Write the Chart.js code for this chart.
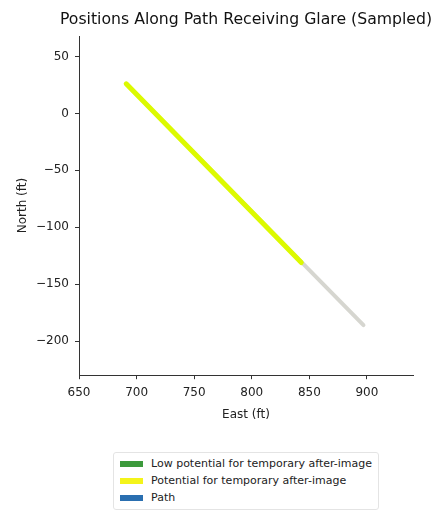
<!DOCTYPE html>
<html>
<head>
<meta charset="utf-8">
<script src="https://cdn.jsdelivr.net/npm/chart.js@4.4.1/dist/chart.umd.min.js"></script>
<style>
  body { margin: 0; background: #fff; }
  #wrap { position: relative; width: 433px; height: 512px; }
  #legend {
    position: absolute; left: 113px; top: 452px; width: 264px;
    border: 1px solid #e4e4e4; border-radius: 3px; padding: 2px 0 3px 0;
    font: 11px "DejaVu Sans", sans-serif; color: #222; background: #fff;
  }
  #legend div { height: 17px; line-height: 17px; white-space: nowrap; }
  #legend span.sw { display: inline-block; width: 23px; height: 6px; margin: 0 8px 1px 6px; vertical-align: middle; }
</style>
</head>
<body>
<div id="wrap">
  <canvas id="chart" width="433" height="512"></canvas>
  <div id="legend"></div>
</div>
<script>
// path sampled along the route (east ft, north ft)
const pathEast = [691, 897];
const pathNorth = [26, -186];

// stretch that gets "potential for temporary after-image"
const glareEast = [691, 843];
const glareNorth = [26, -131];

// low potential - none sampled
const lowEast = [];
const lowNorth = [];

const eastTicks = [650, 700, 750, 800, 850, 900];
const northTicks = [-200, -150, -100, -50, 0, 50];

const titleText = "Positions Along Path Receiving Glare (Sampled)";
const legendLabels = ["Low potential for temporary after-image", "Potential for temporary after-image", "Path"];
const legendColors = ["#3c9a3c", "#f4f41a", "#2a6fb0"];

function pts(xs, ys) {
    return xs.map((x, i) => ({ x: x, y: ys[i] }));
}

const minus = v => String(v).replace("-", "\u2212");

// title centred over the plot area, allowed to run past it (no squeezing)
const plotTitle = {
    id: "plotTitle",
    afterDraw(chart) {
        const c = chart.ctx;
        const a = chart.chartArea;
        c.save();
        c.font = "15.7px 'DejaVu Sans'";
        c.fillStyle = "#111";
        c.textAlign = "center";
        c.textBaseline = "middle";
        c.fillText(titleText, (a.left + a.right) / 2, 20);
        c.restore();
    }
};

const ctx = document.getElementById("chart").getContext("2d");

const chart = new Chart(ctx, {
    type: "scatter",
    data: {
        datasets: [
            {
                label: legendLabels[0],
                data: pts(lowEast, lowNorth),
                borderColor: legendColors[0],
                showLine: true,
                borderWidth: 5,
                pointRadius: 0
            },
            {
                label: legendLabels[1],
                data: pts(glareEast, glareNorth),
                borderColor: "#dcfa00",
                showLine: true,
                borderWidth: 5,
                borderCapStyle: "round",
                pointRadius: 0
            },
            {
                label: legendLabels[2],
                data: pts(pathEast, pathNorth),
                borderColor: "rgba(180, 180, 170, 0.55)",
                showLine: true,
                borderWidth: 4,
                borderCapStyle: "round",
                pointRadius: 0
            }
        ]
    },
    options: {
        responsive: false,
        animation: false,
        layout: { padding: { left: 0, right: 20, top: 36, bottom: 86 } },
        plugins: {
            legend: { display: false },
            tooltip: { enabled: false },
            title: { display: false }
        },
        scales: {
            x: {
                type: "linear",
                min: 650,
                max: 940,
                afterBuildTicks: s => { s.ticks = eastTicks.map(v => ({ value: v })); },
                ticks: { color: "#222", padding: 6, maxRotation: 0,
                    font: { family: "DejaVu Sans", size: 12 }, callback: v => minus(v) },
                grid: { drawOnChartArea: false, drawTicks: true, tickLength: 4, color: "#333" },
                border: { display: true, color: "#333", width: 1 },
                title: { display: true, text: "East (ft)", color: "#222",
                    font: { family: "DejaVu Sans", size: 12 }, padding: { top: 2, bottom: 4 } }
            },
            y: {
                type: "linear",
                min: -230,
                max: 68,
                afterBuildTicks: s => { s.ticks = northTicks.map(v => ({ value: v })); },
                afterFit: s => { s.width = 79; },
                ticks: { color: "#222", padding: 6,
                    font: { family: "DejaVu Sans", size: 12 }, callback: v => minus(v) },
                grid: { drawOnChartArea: false, drawTicks: true, tickLength: 4, color: "#333" },
                border: { display: true, color: "#333", width: 1 },
                title: { display: true, text: "North (ft)", color: "#222",
                    font: { family: "DejaVu Sans", size: 12 }, padding: { top: 16, bottom: 0 } }
            }
        }
    },
    plugins: [plotTitle]
});

// legend listed vertically under the plot
const leg = document.getElementById("legend");
legendLabels.forEach((lab, i) => {
    const row = document.createElement("div");
    row.innerHTML = '<span class="sw" style="background:' + legendColors[i] + '"></span>' + lab;
    leg.appendChild(row);
});
</script>
</body>
</html>
